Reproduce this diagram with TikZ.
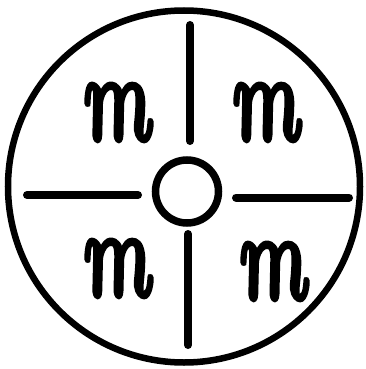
\documentclass[tikz,border=0pt]{standalone}
\usepackage{fontspec}
\newfontfamily\mfont{Latin Modern Roman}[BoldItalicFeatures={FakeBold=3}, ItalicFeatures={FakeBold=3}]
\begin{document}
\begin{tikzpicture}[x=1pt,y=-1pt,
  ring/.style={line width=6.5pt},
  spoke/.style={line width=8pt, line cap=round},
  mm/.style={inner sep=0pt, transform shape, xslant=-0.12}]
\useasboundingbox (0,0) rectangle (366,369);
\node[ring, draw, circle, minimum size=352pt, inner sep=0pt] (outer) at (184,186.5) {};
\node[ring, line width=7.5pt, draw, circle, minimum size=63pt, inner sep=0pt] (inner) at (187,191.5) {};
\coordinate (l1) at (27,195);  \coordinate (l2) at (138,195);
\coordinate (r1) at (236,197.5); \coordinate (r2) at (349,197.5);
\coordinate (t1) at (190,25);  \coordinate (t2) at (190,141);
\coordinate (b1) at (188,234); \coordinate (b2) at (188,345);
\draw[spoke] (l1) -- (l2);
\draw[spoke] (r1) -- (r2);
\draw[spoke] (t1) -- (t2);
\draw[spoke] (b1) -- (b2);
\newcommand{\myscriptm}{\resizebox{68pt}{57pt}{\mfont\bfseries\itshape m}}
\node[mm] (m1) at (115,112.5) {\myscriptm};
\node[mm] (m2) at (264,112.5) {\myscriptm};
\node[mm] (m3) at (115,268.5) {\myscriptm};
\node[mm] (m4) at (271,271.5) {\myscriptm};
\end{tikzpicture}
\end{document}
